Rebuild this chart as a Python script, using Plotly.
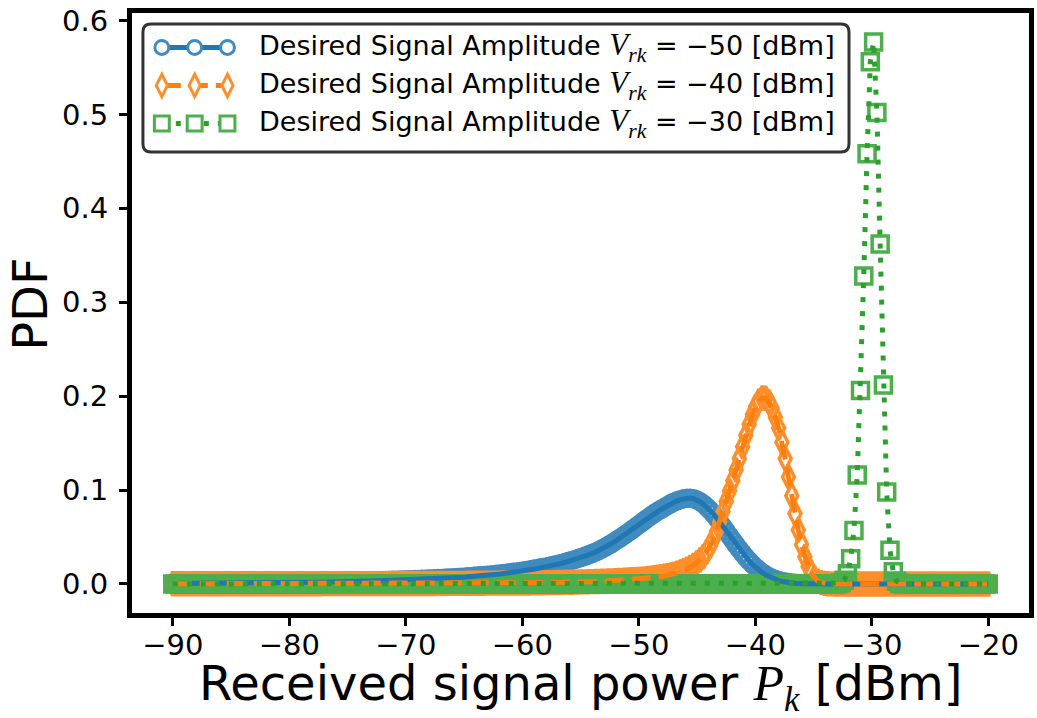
import numpy as np
import plotly.graph_objects as go

# ---------------- data ----------------
# sampling grid of the received power axis [dBm]: 250 samples from -90 to -20
P_START, P_STOP, N_SAMPLES = -90.0, -20.0, 250

pdf_vrk_m50 = [
    0.0005, 0.0005, 0.0005, 0.0005, 0.0006, 0.0006, 0.0006, 0.0006, 0.0006, 0.0006,
    0.0007, 0.0007, 0.0007, 0.0007, 0.0007, 0.0008, 0.0008, 0.0008, 0.0008, 0.0009,
    0.0009, 0.0009, 0.0009, 0.0010, 0.0010, 0.0010, 0.0011, 0.0011, 0.0011, 0.0012,
    0.0012, 0.0012, 0.0013, 0.0013, 0.0014, 0.0014, 0.0014, 0.0015, 0.0015, 0.0016,
    0.0016, 0.0017, 0.0017, 0.0018, 0.0019, 0.0019, 0.0020, 0.0021, 0.0021, 0.0022,
    0.0023, 0.0024, 0.0024, 0.0025, 0.0026, 0.0027, 0.0028, 0.0029, 0.0030, 0.0031,
    0.0032, 0.0033, 0.0034, 0.0035, 0.0036, 0.0037, 0.0038, 0.0039, 0.0040, 0.0041,
    0.0042, 0.0043, 0.0044, 0.0045, 0.0047, 0.0048, 0.0050, 0.0051, 0.0053, 0.0054,
    0.0056, 0.0058, 0.0059, 0.0061, 0.0063, 0.0064, 0.0066, 0.0069, 0.0071, 0.0073,
    0.0076, 0.0078, 0.0081, 0.0084, 0.0087, 0.0090, 0.0093, 0.0096, 0.0099, 0.0103,
    0.0107, 0.0111, 0.0115, 0.0119, 0.0124, 0.0128, 0.0133, 0.0138, 0.0144, 0.0150,
    0.0156, 0.0162, 0.0169, 0.0175, 0.0182, 0.0189, 0.0197, 0.0205, 0.0213, 0.0222,
    0.0231, 0.0241, 0.0251, 0.0262, 0.0273, 0.0284, 0.0297, 0.0310, 0.0324, 0.0339,
    0.0355, 0.0372, 0.0390, 0.0410, 0.0431, 0.0453, 0.0475, 0.0498, 0.0522, 0.0546,
    0.0571, 0.0597, 0.0623, 0.0649, 0.0675, 0.0701, 0.0726, 0.0750, 0.0773, 0.0793,
    0.0812, 0.0834, 0.0854, 0.0871, 0.0886, 0.0898, 0.0907, 0.0913, 0.0914, 0.0908,
    0.0895, 0.0876, 0.0852, 0.0822, 0.0787, 0.0748, 0.0705, 0.0659, 0.0611, 0.0562,
    0.0513, 0.0464, 0.0416, 0.0370, 0.0326, 0.0284, 0.0245, 0.0209, 0.0176, 0.0146,
    0.0120, 0.0097, 0.0078, 0.0061, 0.0047, 0.0036, 0.0027, 0.0020, 0.0015, 0.0011,
    0.0008, 0.0006, 0.0004, 0.0003, 0.0002, 0.0001, 0.0001, 0, 0, 0,
    0, 0, 0, 0, 0, 0, 0, 0, 0, 0,
    0, 0, 0, 0, 0, 0, 0, 0, 0, 0,
    0, 0, 0, 0, 0, 0, 0, 0, 0, 0,
    0, 0, 0, 0, 0, 0, 0, 0, 0, 0,
    0, 0, 0, 0, 0, 0, 0, 0, 0, 0,
]

pdf_vrk_m40 = [
    0.0002, 0.0002, 0.0002, 0.0002, 0.0002, 0.0002, 0.0002, 0.0002, 0.0002, 0.0002,
    0.0002, 0.0002, 0.0002, 0.0002, 0.0002, 0.0002, 0.0002, 0.0002, 0.0002, 0.0002,
    0.0002, 0.0003, 0.0003, 0.0003, 0.0003, 0.0003, 0.0003, 0.0003, 0.0003, 0.0003,
    0.0003, 0.0003, 0.0003, 0.0003, 0.0003, 0.0003, 0.0003, 0.0003, 0.0003, 0.0003,
    0.0003, 0.0003, 0.0003, 0.0003, 0.0003, 0.0003, 0.0004, 0.0004, 0.0004, 0.0004,
    0.0004, 0.0004, 0.0004, 0.0004, 0.0004, 0.0004, 0.0004, 0.0004, 0.0004, 0.0004,
    0.0004, 0.0004, 0.0004, 0.0004, 0.0004, 0.0004, 0.0005, 0.0005, 0.0005, 0.0005,
    0.0005, 0.0005, 0.0005, 0.0005, 0.0005, 0.0005, 0.0005, 0.0005, 0.0005, 0.0005,
    0.0005, 0.0006, 0.0006, 0.0006, 0.0006, 0.0007, 0.0007, 0.0007, 0.0007, 0.0007,
    0.0008, 0.0008, 0.0008, 0.0008, 0.0008, 0.0008, 0.0009, 0.0009, 0.0009, 0.0009,
    0.0009, 0.0010, 0.0010, 0.0010, 0.0010, 0.0010, 0.0010, 0.0011, 0.0011, 0.0011,
    0.0012, 0.0012, 0.0013, 0.0013, 0.0014, 0.0015, 0.0015, 0.0016, 0.0016, 0.0017,
    0.0018, 0.0018, 0.0019, 0.0020, 0.0021, 0.0022, 0.0023, 0.0024, 0.0025, 0.0026,
    0.0027, 0.0029, 0.0030, 0.0032, 0.0033, 0.0035, 0.0037, 0.0039, 0.0041, 0.0043,
    0.0045, 0.0047, 0.0049, 0.0052, 0.0055, 0.0059, 0.0063, 0.0067, 0.0072, 0.0077,
    0.0083, 0.0089, 0.0096, 0.0105, 0.0115, 0.0127, 0.0141, 0.0157, 0.0176, 0.0198,
    0.0225, 0.0256, 0.0292, 0.0340, 0.0400, 0.0470, 0.0560, 0.0660, 0.0770, 0.0880,
    0.0990, 0.1100, 0.1215, 0.1335, 0.1460, 0.1585, 0.1700, 0.1805, 0.1890, 0.1950,
    0.1980, 0.1978, 0.1940, 0.1870, 0.1775, 0.1660, 0.1510, 0.1335, 0.1140, 0.0940,
    0.0750, 0.0575, 0.0420, 0.0290, 0.0185, 0.0110, 0.0060, 0.0030, 0.0015, 0.0007,
    0.0003, 0.0001, 0, 0, 0, 0, 0, 0, 0, 0,
    0, 0, 0, 0, 0, 0, 0, 0, 0, 0,
    0, 0, 0, 0, 0, 0, 0, 0, 0, 0,
    0, 0, 0, 0, 0, 0, 0, 0, 0, 0,
    0, 0, 0, 0, 0, 0, 0, 0, 0, 0,
]

pdf_vrk_m30 = [
    0, 0, 0, 0, 0, 0, 0, 0, 0, 0,
    0, 0, 0, 0, 0, 0, 0, 0, 0, 0,
    0, 0, 0, 0, 0, 0, 0, 0, 0, 0,
    0, 0, 0, 0, 0, 0, 0, 0, 0, 0,
    0, 0, 0, 0, 0, 0, 0, 0, 0, 0,
    0, 0, 0, 0, 0, 0, 0, 0, 0, 0,
    0, 0, 0, 0, 0, 0, 0, 0, 0, 0,
    0, 0, 0, 0, 0, 0, 0, 0, 0, 0,
    0, 0, 0, 0, 0, 0, 0, 0, 0, 0,
    0, 0, 0, 0, 0, 0, 0, 0, 0, 0,
    0, 0, 0, 0, 0, 0, 0, 0, 0, 0,
    0, 0, 0, 0, 0, 0, 0, 0, 0, 0,
    0, 0, 0, 0, 0, 0, 0, 0, 0, 0,
    0, 0, 0, 0, 0, 0, 0, 0, 0, 0,
    0, 0, 0, 0, 0, 0, 0, 0, 0, 0,
    0, 0, 0, 0, 0, 0, 0, 0, 0, 0,
    0, 0, 0, 0, 0, 0, 0, 0, 0, 0,
    0, 0, 0, 0, 0, 0, 0, 0, 0, 0,
    0, 0, 0, 0, 0, 0, 0, 0, 0, 0,
    0, 0, 0, 0, 0, 0, 0, 0, 0, 0,
    0, 0, 0, 0, 0.001, 0.004, 0.011, 0.027, 0.057, 0.116,
    0.206, 0.328, 0.458, 0.556, 0.577, 0.502, 0.362, 0.212, 0.098, 0.036,
    0.013, 0.003, 0.0005, 0, 0, 0, 0, 0, 0, 0,
    0, 0, 0, 0, 0, 0, 0, 0, 0, 0,
    0, 0, 0, 0, 0, 0, 0, 0, 0, 0,
]

series_labels = [
    "Desired Signal Amplitude {v} = \u221250 [dBm]",
    "Desired Signal Amplitude {v} = \u221240 [dBm]",
    "Desired Signal Amplitude {v} = \u221230 [dBm]",
]
x_tick_vals = [-90, -80, -70, -60, -50, -40, -30, -20]
y_tick_vals = [0.0, 0.1, 0.2, 0.3, 0.4, 0.5, 0.6]
x_title = "Received signal power {p} [dBm]"
y_title = "PDF"

assert len(pdf_vrk_m50) == N_SAMPLES
assert len(pdf_vrk_m40) == N_SAMPLES
assert len(pdf_vrk_m30) == N_SAMPLES
power_dbm = np.linspace(P_START, P_STOP, N_SAMPLES)

# ---------------- styling ----------------
W, H = 1037, 718
L, R, T, B = 132, 1034, 12.5, 613          # plot area in pixels
FONT = "DejaVu Sans"
MATH = "Liberation Serif"

colors = ["#1f77b4", "#ff7f0e", "#2ca02c"]
edge = ["#418bbf", "#ff8f2d", "#4cae4c"]
symbols = ["circle-open", "diamond-tall-open", "square-open"]
msizes = [16, 17, 16]
dashes = ["solid", "19px,8px", "5px,9px"]
LW = 5
MLW = 3.5

ys = [pdf_vrk_m50, pdf_vrk_m40, pdf_vrk_m30]

fig = go.Figure()
# markers first (all series), then lines on top
for i in range(3):
    fig.add_trace(go.Scatter(
        x=power_dbm, y=ys[i], mode="markers", showlegend=False, hoverinfo="skip",
        marker=dict(symbol=symbols[i], size=msizes[i], color=edge[i],
                    line=dict(color=edge[i], width=MLW)),
    ))
for i in range(3):
    fig.add_trace(go.Scatter(
        x=power_dbm, y=ys[i], mode="lines", showlegend=False, hoverinfo="skip",
        line=dict(color=colors[i], width=LW, dash=dashes[i]),
    ))


def px(xp):
    return (xp - L) / (R - L)


def py(yp):
    return (B - yp) / (B - T)


shapes = []
# legend frame (rounded rectangle)
bx0, bx1, by0, by1, rad = 143, 853, 23.5, 151.5, 8
rx, ry = rad / (R - L), rad / (B - T)
X0, X1, YT, YB = px(bx0), px(bx1), py(by0), py(by1)
path = (f"M{X0+rx},{YT} L{X1-rx},{YT} Q{X1},{YT} {X1},{YT-ry} "
        f"L{X1},{YB+ry} Q{X1},{YB} {X1-rx},{YB} L{X0+rx},{YB} "
        f"Q{X0},{YB} {X0},{YB+ry} L{X0},{YT-ry} Q{X0},{YT} {X0+rx},{YT} Z")
shapes.append(dict(type="path", xref="paper", yref="paper", path=path,
                   fillcolor="white", line=dict(color="#333333", width=3), layer="above"))

rows = [47, 85, 123]
hx = [162, 195, 228]
for i, ry_ in enumerate(rows):
    shapes.append(dict(type="line", xref="paper", yref="paper",
                       x0=px(hx[0]), x1=px(hx[2]), y0=py(ry_), y1=py(ry_),
                       line=dict(color=colors[i], width=LW, dash=dashes[i]), layer="above"))
    for cx in hx:
        if i == 0:
            r0 = 7
            shapes.append(dict(type="circle", xref="paper", yref="paper",
                               x0=px(cx - r0), x1=px(cx + r0), y0=py(ry_ + r0), y1=py(ry_ - r0),
                               fillcolor="white", line=dict(color=edge[i], width=3), layer="above"))
        elif i == 1:
            hw, hh = 5.6, 11.2
            p = (f"M{px(cx)},{py(ry_-hh)} L{px(cx+hw)},{py(ry_)} "
                 f"L{px(cx)},{py(ry_+hh)} L{px(cx-hw)},{py(ry_)} Z")
            shapes.append(dict(type="path", xref="paper", yref="paper", path=p,
                               fillcolor="white", line=dict(color=edge[i], width=3), layer="above"))
        else:
            hs = 7.5
            shapes.append(dict(type="rect", xref="paper", yref="paper",
                               x0=px(cx - hs), x1=px(cx + hs), y0=py(ry_ + hs), y1=py(ry_ - hs),
                               fillcolor="white", line=dict(color=edge[i], width=3), layer="above"))

vrk = (f'<span style="font-family:{MATH};font-size:31px"><i>V</i></span>'
       f'<span style="font-family:{MATH};font-size:31px"><sub><i>rk</i></sub></span>')
pk = (f'<span style="font-family:{MATH};font-size:50px"><i>P</i></span>'
      f'<span style="font-family:{MATH};font-size:50px"><sub><i>k</i></sub></span>')
annotations = []
for i, ry_ in enumerate(rows):
    annotations.append(dict(
        text=series_labels[i].format(v=vrk), xref="paper", yref="paper",
        x=px(258), y=py(ry_), xanchor="left", yanchor="middle", showarrow=False,
        font=dict(family=FONT, size=27, color="black")))
annotations.append(dict(
    text=x_title.format(p=pk), xref="paper", yref="paper",
    x=px(583), y=py(687), xanchor="center", yanchor="middle", showarrow=False,
    font=dict(family=FONT, size=48, color="black")))
annotations.append(dict(
    text=y_title, xref="paper", yref="paper", textangle=-90,
    x=px(30), y=py(304), xanchor="center", yanchor="middle", showarrow=False,
    font=dict(family=FONT, size=48, color="black")))

axis_common = dict(showline=True, linewidth=5, linecolor="black", mirror=True,
                   ticks="outside", ticklen=8, tickwidth=3, tickcolor="black",
                   showgrid=False, zeroline=False,
                   tickfont=dict(family=FONT, size=29, color="black"))

fig.update_layout(
    width=W, height=H,
    margin=dict(l=L, r=W - R, t=T, b=H - B, pad=0),
    paper_bgcolor="white", plot_bgcolor="white",
    xaxis=dict(range=[-93.5, -16.5], tickvals=x_tick_vals, ticklabelstandoff=-6,
               **axis_common),
    yaxis=dict(range=[-0.0309, 0.608], tickvals=y_tick_vals, tickformat=".1f",
               ticklabelstandoff=5, **axis_common),
    shapes=shapes, annotations=annotations,
    showlegend=False,
)

fig.write_html("out.html")
